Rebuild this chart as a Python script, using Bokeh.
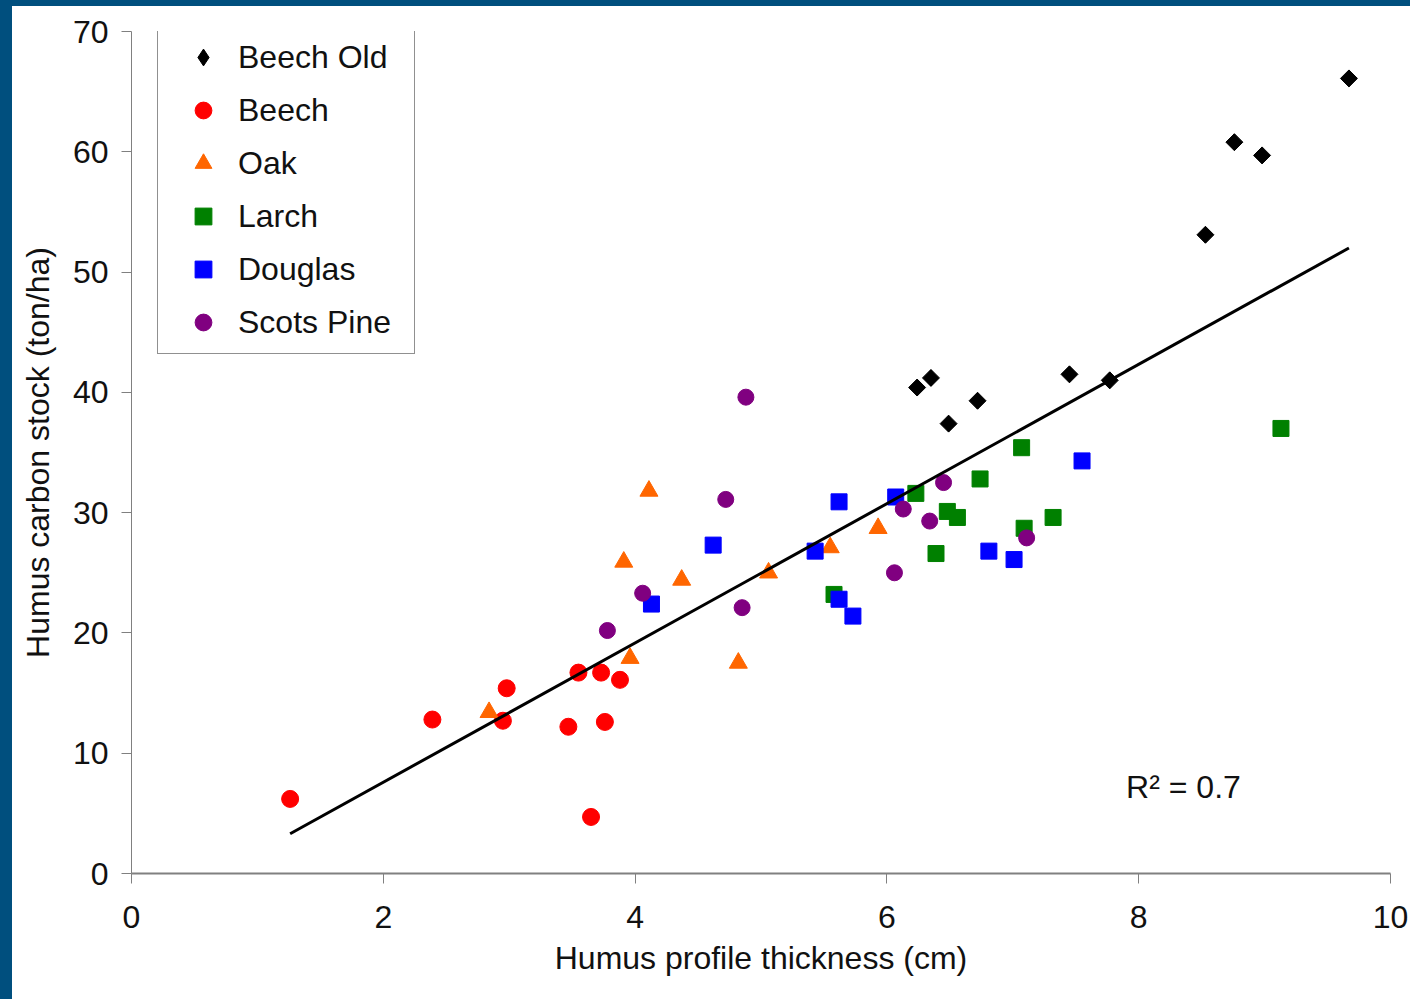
import numpy as np
from bokeh.plotting import figure
from bokeh.models import Range1d, Legend, LegendItem, Label, FixedTicker
from bokeh.layouts import column
from bokeh.embed import file_html
from bokeh.resources import INLINE

# ---------------- data ----------------
series_names = ["Beech Old", "Beech", "Oak", "Larch", "Douglas", "Scots Pine"]

beech_old_x = [9.67, 8.53, 8.76, 8.98, 7.77, 7.45, 6.72, 6.49, 6.24, 6.35]
beech_old_y = [66.1, 53.1, 60.8, 59.7, 41.0, 41.5, 39.3, 37.4, 40.4, 41.2]

beech_x = [1.26, 2.39, 2.98, 2.95, 3.47, 3.55, 3.73, 3.76, 3.88, 3.65]
beech_y = [6.2, 12.8, 15.4, 12.7, 12.2, 16.7, 16.7, 12.6, 16.1, 4.7]

oak_x = [2.84, 3.96, 3.91, 4.11, 4.37, 4.82, 5.06, 5.55, 5.93]
oak_y = [13.4, 17.9, 25.9, 31.8, 24.4, 17.5, 25.0, 27.1, 28.7]

larch_x = [9.13, 7.07, 6.74, 6.23, 6.48, 6.56, 7.32, 7.09, 6.39, 5.58]
larch_y = [37.0, 35.4, 32.8, 31.6, 30.1, 29.6, 29.6, 28.7, 26.6, 23.2]

douglas_x = [7.55, 6.07, 5.62, 4.62, 5.43, 6.81, 7.01, 4.13, 5.62, 5.73]
douglas_y = [34.3, 31.3, 30.9, 27.3, 26.8, 26.8, 26.1, 22.4, 22.8, 21.4]

pine_x = [4.88, 4.72, 6.45, 6.13, 6.34, 7.11, 6.06, 4.06, 4.85, 3.78]
pine_y = [39.6, 31.1, 32.5, 30.3, 29.3, 27.9, 25.0, 23.3, 22.1, 20.2]

trend_x = [1.26, 9.67]
trend_y = [3.3, 52.0]

r2_text = "R\u00b2 = 0.7"
x_ticks = [0, 2, 4, 6, 8, 10]
y_ticks = [0, 10, 20, 30, 40, 50, 60, 70]
x_label = "Humus profile thickness (cm)"
y_label = "Humus carbon stock (ton/ha)"

# ---------------- styling ----------------
FONT = "Liberation Sans"
FS = "32px"
TXT = "#111111"
AXIS = "#808080"

p = figure(width=1398, height=993,
           x_range=Range1d(0, 10), y_range=Range1d(0, 70),
           output_backend="svg", toolbar_location=None,
           min_border_left=119, min_border_right=20,
           min_border_top=25, min_border_bottom=126,
           background_fill_color="white", border_fill_color="white")
p.margin = (6, 0, 0, 12)
p.styles = {"background-color": "white"}
p.outline_line_color = None
p.outline_line_alpha = 0
p.grid.visible = False

for ax in (p.xaxis[0], p.yaxis[0]):
    ax.major_label_text_font = FONT
    ax.major_label_text_font_size = FS
    ax.major_label_text_color = TXT
    ax.axis_label_text_font = FONT
    ax.axis_label_text_font_size = FS
    ax.axis_label_text_font_style = "normal"
    ax.axis_label_text_color = TXT
    ax.axis_line_color = AXIS
    ax.major_tick_line_color = AXIS
    ax.major_tick_in = 0
    ax.major_tick_out = 10
    ax.minor_tick_line_color = None

p.xaxis.ticker = FixedTicker(ticks=x_ticks)
p.yaxis.ticker = FixedTicker(ticks=y_ticks)
p.xaxis.axis_label = x_label
p.yaxis.axis_label = y_label
p.xaxis.axis_line_width = 2
p.xaxis.major_label_standoff = 22
p.yaxis.major_label_standoff = 13
p.xaxis.axis_label_standoff = 9
p.yaxis.axis_label_standoff = 14

# diamond key (used by the legend; hidden under the rotated squares in the plot)
r_old_key = p.scatter(beech_old_x, beech_old_y, marker="diamond", size=16,
                      fill_color="#000000", line_color="#000000")
r_old = p.scatter(beech_old_x, beech_old_y, marker="square", angle=np.pi / 4,
                  size=12, fill_color="#000000", line_color="#000000")
r_beech = p.scatter(beech_x, beech_y, marker="circle", size=17,
                    fill_color="#FF0000", line_color="#FF0000")
r_oak = p.scatter(oak_x, oak_y, marker="triangle", size=18,
                  fill_color="#FF6600", line_color="#FF6600")
r_larch = p.scatter(larch_x, larch_y, marker="square", size=16,
                    fill_color="#008000", line_color="#008000")
r_doug = p.scatter(douglas_x, douglas_y, marker="square", size=16,
                   fill_color="#0000FF", line_color="#0000FF")
r_pine = p.scatter(pine_x, pine_y, marker="circle", size=16,
                   fill_color="#800080", line_color="#800080")

p.line(trend_x, trend_y, line_color="black", line_width=3)

legend = Legend(items=[LegendItem(label=n, renderers=[r]) for n, r in
                       zip(series_names, [r_old_key, r_beech, r_oak, r_larch, r_doug, r_pine])],
                location=(26, 519), margin=0, padding=10,
                glyph_width=70, glyph_height=42, label_height=42, label_width=166,
                label_standoff=0, spacing=11,
                label_text_font=FONT, label_text_font_size=FS, label_text_color=TXT,
                border_line_color="#222222", border_line_width=1,
                background_fill_color="white", background_fill_alpha=1.0)
p.add_layout(legend, "center")

p.add_layout(Label(x=7.9, y=7.2, text=r2_text, text_font=FONT, text_font_size=FS,
                   text_color=TXT, text_align="left", text_baseline="alphabetic"))

page = column(p, styles={"background-color": "#004f7e"})

open("out.html", "w").write(file_html(page, INLINE))
